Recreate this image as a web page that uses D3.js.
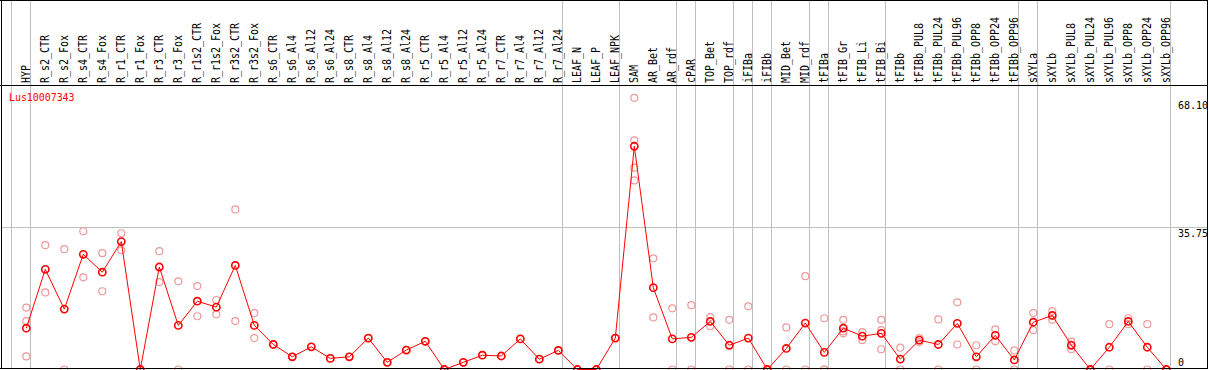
<!DOCTYPE html>
<html>
<head>
<meta charset="utf-8">
<script src="https://cdn.jsdelivr.net/npm/d3@7"></script>
<style>
  body { margin: 0; background: #fff; }
  text { font-family: "DejaVu Sans Mono", "Liberation Mono", monospace; }
</style>
</head>
<body>
<div id="chart"></div>
<script>
// chart size
const width = 1209, height = 370;

// sample names (columns)
const samples = ["HYP",
  "R_s2_CTR", "R_s2_Fox", "R_s4_CTR", "R_s4_Fox", "R_r1_CTR", "R_r1_Fox", "R_r3_CTR", "R_r3_Fox",
  "R_r1s2_CTR", "R_r1s2_Fox", "R_r3s2_CTR", "R_r3s2_Fox",
  "R_s6_CTR", "R_s6_Al4", "R_s6_Al12", "R_s6_Al24", "R_s8_CTR", "R_s8_Al4", "R_s8_Al12", "R_s8_Al24",
  "R_r5_CTR", "R_r5_Al4", "R_r5_Al12", "R_r5_Al24", "R_r7_CTR", "R_r7_Al4", "R_r7_Al12", "R_r7_Al24",
  "LEAF_N", "LEAF_P", "LEAF_NPK", "SAM", "AR_Bet", "AR_rdf", "cPAR", "TOP_Bet", "TOP_rdf",
  "iFIBa", "iFIBb", "MID_Bet", "MID_rdf", "tFIBa", "tFIB_Gr", "tFIB_Li", "tFIB_Bi",
  "tFIBb", "tFIBb_PUL8", "tFIBb_PUL24", "tFIBb_PUL96", "tFIBb_OPP8", "tFIBb_OPP24", "tFIBb_OPP96",
  "sXYLa", "sXYLb", "sXYLb_PUL8", "sXYLb_PUL24", "sXYLb_PUL96", "sXYLb_OPP8", "sXYLb_OPP24", "sXYLb_OPP96"];

// last sample of each tissue group (a separator follows it)
const groupEnds = ["HYP", "R_r7_Al24", "LEAF_NPK", "AR_rdf", "cPAR", "TOP_rdf", "iFIBa", "iFIBb",
  "MID_rdf", "tFIBa", "tFIB_Bi", "tFIBb_OPP96", "sXYLa", "sXYLb_OPP96"];

// mean expression per sample
const means = [10.4, 25.2, 15.2, 29.0, 24.5, 32.2, 0, 25.8, 11.1, 17.2, 15.7, 26.2, 11.1, 6.3, 3.2,
  5.7, 2.8, 3.2, 7.9, 1.8, 4.9, 7.1, 0, 1.8, 3.6, 3.4, 7.7, 2.6, 4.8, 0, 0,
  7.9, 56.2, 20.6, 7.7, 8.1, 12.1, 6.1, 7.9, 0, 5.3, 11.7, 4.3, 10.4, 8.4, 9.1,
  2.6, 7.4, 6.3, 11.6, 3.2, 8.6, 2.4, 11.9, 13.6, 6.1, 0, 5.6, 12.1, 5.6, 0];

// replicate values per sample
const replicates = [[15.6, 12.2, 3.3], [31.3, 19.4], [30.3, 0], [34.8, 23.2], [29.3, 19.7], [34.3, 30.0],
  [0, 0], [29.8, 22.0], [22.2, 0], [21.0, 13.4], [17.5, 13.9], [40.3, 12.2], [14.2, 7.9],
  [6.3], [3.2], [5.7], [2.8], [3.2], [7.9], [1.8], [4.9], [7.1], [0], [1.8], [3.6], [3.4], [7.7], [2.6], [4.8],
  [0], [0], [7.9], [68.4, 57.7, 50.8, 47.6], [28.0, 13.1], [15.4, 0], [16.2, 0], [13.2, 10.9], [12.5, 0],
  [15.9, 0], [0, 0], [10.6, 0], [23.5, 0], [12.9, 0, 0], [12.5, 9.1, 9.6], [9.4, 7.4], [12.5, 9.9, 5.1],
  [5.5, 0], [6.9, 7.9], [12.6, 0], [16.9, 6.3], [6.1, 0], [10.1, 7.1], [4.8, 0],
  [14.2, 9.9], [14.7, 12.5], [7.0, 5.1], [0, 0], [11.4, 0], [12.9, 11.4], [11.4, 0], [0, 0]];

const yTicks = [0, 35.75, 68.10];
const geneName = "Lus10007343";

const headerH = 85;
const frame = {left: 1, right: 1207, bottom: 369};

let svg = d3.select("#chart")
    .append("svg")
    .attr("width", width)
    .attr("height", height);

let x = d3.scalePoint()
    .domain(samples)
    .range([26.3, 1166.3]);

let y = d3.scaleLinear()
    .domain([0, 68.1])
    .range([369.5, 99]);

// horizontal grid line at the middle tick
svg.append("line")
    .attr("x1", frame.left).attr("x2", frame.right)
    .attr("y1", Math.round(y(35.75)) + 0.5).attr("y2", Math.round(y(35.75)) + 0.5)
    .attr("stroke", "#c0c0c0");

// group separators
let seps = [x(samples[0]) - x.step() + 4].concat(groupEnds.map(d => x(d) + 4));
svg.selectAll("line.sep").data(seps).enter()
    .append("line")
    .attr("class", "sep")
    .attr("x1", d => Math.round(d) + 0.5).attr("x2", d => Math.round(d) + 0.5)
    .attr("y1", 0).attr("y2", frame.bottom)
    .attr("stroke", "#c0c0c0");

// replicate points
let repData = [];
samples.forEach((s, i) => replicates[i].forEach(v => repData.push({s: s, v: v})));
svg.append("g").selectAll("circle").data(repData).enter()
    .append("circle")
    .attr("cx", d => x(d.s))
    .attr("cy", d => y(d.v))
    .attr("r", 3.5)
    .attr("fill", "none")
    .attr("stroke", "#ee9a9a")
    .attr("stroke-width", 1.2);

// mean line
let meanData = samples.map((s, i) => ({s: s, v: means[i]}));
svg.append("path")
    .datum(meanData)
    .attr("fill", "none")
    .attr("stroke", "#ff0000")
    .attr("stroke-width", 1)
    .attr("d", d3.line().x(d => x(d.s)).y(d => y(d.v)));

svg.append("g").selectAll("circle").data(meanData).enter()
    .append("circle")
    .attr("cx", d => x(d.s))
    .attr("cy", d => y(d.v))
    .attr("r", 3.6)
    .attr("fill", "none")
    .attr("stroke", "#ff0000")
    .attr("stroke-width", 1.6);

// column headers (vertical)
svg.append("g").selectAll("text").data(samples).enter()
    .append("text")
    .attr("transform", d => `translate(${x(d) + 4}, 83) rotate(-90) scale(0.8, 1)`)
    .style("font-size", "12.5px")
    .attr("fill", "#000")
    .text(d => d);

// gene name
svg.append("text")
    .attr("transform", "translate(9, 101) scale(0.9, 1)")
    .style("font-size", "11px")
    .attr("fill", "#ff0000")
    .text(geneName);

// right axis labels
svg.append("g").selectAll("text").data(yTicks).enter()
    .append("text")
    .attr("x", 1178)
    .attr("y", d => d === 0 ? y(d) - 4 : y(d) + 10)
    .style("font-size", "10px")
    .attr("fill", "#000")
    .text(d => d === 0 ? "0" : d.toFixed(2));

// frame
let fr = svg.append("g").attr("stroke", "#000").attr("fill", "none");
fr.append("line").attr("x1", 0).attr("x2", frame.right + 1).attr("y1", 0.5).attr("y2", 0.5);
fr.append("line").attr("x1", 0).attr("x2", frame.right + 1).attr("y1", headerH + 0.5).attr("y2", headerH + 0.5);
fr.append("line").attr("x1", 0).attr("x2", frame.right + 1).attr("y1", frame.bottom - 0.5).attr("y2", frame.bottom - 0.5);
fr.append("line").attr("x1", frame.left + 0.5).attr("x2", frame.left + 0.5).attr("y1", 0).attr("y2", frame.bottom);
fr.append("line").attr("x1", frame.right + 0.5).attr("x2", frame.right + 0.5).attr("y1", 0).attr("y2", frame.bottom);
</script>
</body>
</html>
